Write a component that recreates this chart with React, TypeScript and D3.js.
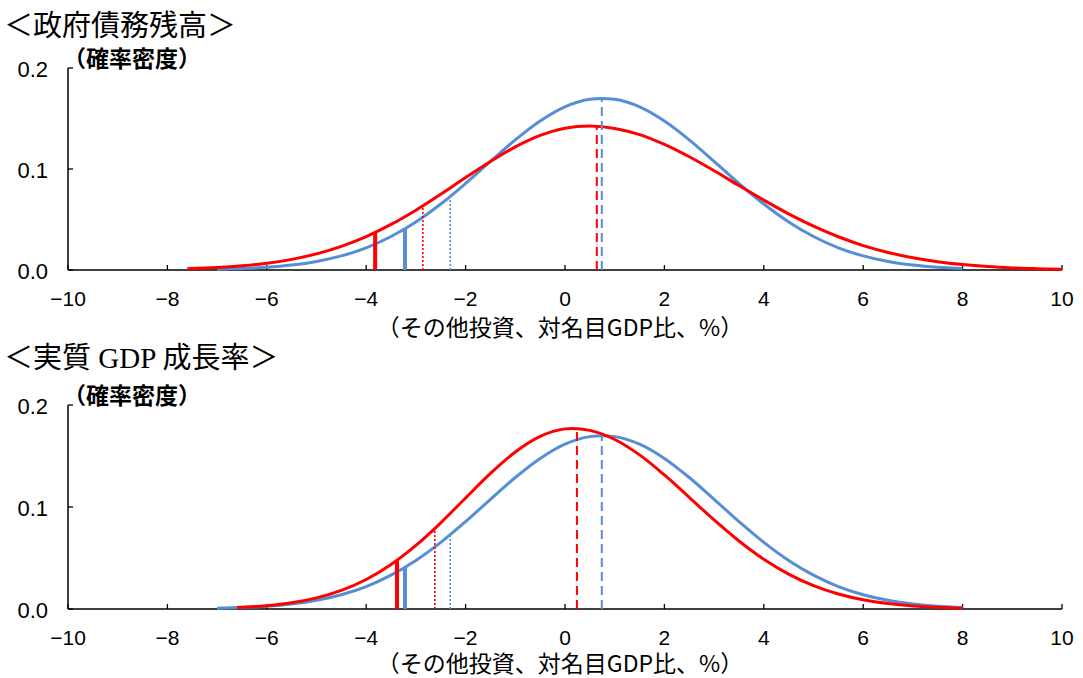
import React from "react";
import * as d3 from "d3";

// ---------- data ----------
const xTicks = [-10, -8, -6, -4, -2, 0, 2, 4, 6, 8, 10];
const yTicks = [0, 0.1, 0.2];
const xTitle = "（その他投資、対名目GDP比、%）";
const yTitle = "（確率密度）";

// Panel 1: 政府債務残高
const p1BlueX = [-7, -6.5, -6, -5.5, -5, -4.5, -4, -3.5, -3, -2.5, -2, -1.5, -1, -0.5, 0, 0.5, 1, 1.5, 2, 2.5, 3, 3.5, 4, 4.5, 5, 5.5, 6, 6.5, 7, 7.5, 8];
const p1BlueY = [0.0007, 0.0015, 0.0027, 0.0049, 0.0085, 0.014, 0.022, 0.0332, 0.0476, 0.0653, 0.0857, 0.1075, 0.1289, 0.1476, 0.1616, 0.169, 0.169, 0.1616, 0.1476, 0.1289, 0.1075, 0.0857, 0.0653, 0.0476, 0.0332, 0.022, 0.014, 0.0085, 0.0049, 0.0027, 0.0015];
const p1RedX = [-7.6, -7, -6.5, -6, -5.5, -5, -4.5, -4, -3.5, -3, -2.5, -2, -1.5, -1, -0.5, 0, 0.5, 1, 1.5, 2, 2.5, 3, 3.5, 4, 4.5, 5, 5.5, 6, 6.5, 7, 7.5, 8, 8.5, 9, 9.5, 10];
const p1RedY = [0.0012, 0.0024, 0.0041, 0.0067, 0.0105, 0.016, 0.0234, 0.0331, 0.0451, 0.0592, 0.075, 0.0915, 0.1075, 0.1219, 0.1333, 0.1404, 0.1426, 0.1402, 0.134, 0.1243, 0.1121, 0.0983, 0.0836, 0.0692, 0.0556, 0.0434, 0.0329, 0.0242, 0.0174, 0.0121, 0.0082, 0.0054, 0.0034, 0.0021, 0.0013, 0.0007];
const p1Markers = [
  { x: -3.82, color: "red", kind: "solid" },
  { x: -3.22, color: "blue", kind: "solid" },
  { x: -2.86, color: "red", kind: "dot" },
  { x: -2.31, color: "blue", kind: "dot" },
  { x: 0.64, color: "red", kind: "dash" },
  { x: 0.74, color: "blue", kind: "dash" },
];

// Panel 2: 実質GDP成長率
const p2BlueX = [-7, -6.5, -6, -5.5, -5, -4.5, -4, -3.5, -3, -2.5, -2, -1.5, -1, -0.5, 0, 0.5, 1, 1.5, 2, 2.5, 3, 3.5, 4, 4.5, 5, 5.5, 6, 6.5, 7, 7.5, 8];
const p2BlueY = [0.0007, 0.0015, 0.0027, 0.0049, 0.0085, 0.014, 0.022, 0.0332, 0.0476, 0.0653, 0.0857, 0.1075, 0.1289, 0.1476, 0.1616, 0.169, 0.169, 0.1616, 0.1476, 0.1289, 0.1075, 0.0857, 0.0653, 0.0476, 0.0332, 0.022, 0.014, 0.0085, 0.0049, 0.0027, 0.0015];
const p2RedX = [-6.6, -6, -5.5, -5, -4.5, -4, -3.5, -3, -2.5, -2, -1.5, -1, -0.5, 0, 0.5, 1, 1.5, 2, 2.5, 3, 3.5, 4, 4.5, 5, 5.5, 6, 6.5, 7, 7.5, 8];
const p2RedY = [0.0015, 0.0033, 0.0061, 0.0109, 0.0182, 0.0289, 0.0436, 0.0623, 0.0845, 0.1088, 0.1329, 0.154, 0.1693, 0.1766, 0.1751, 0.1662, 0.1511, 0.1314, 0.1095, 0.0873, 0.0667, 0.0488, 0.0342, 0.0229, 0.0147, 0.009, 0.0053, 0.003, 0.0016, 0.0008];
const p2Markers = [
  { x: -3.38, color: "red", kind: "solid" },
  { x: -3.22, color: "blue", kind: "solid" },
  { x: -2.62, color: "red", kind: "dot" },
  { x: -2.31, color: "blue", kind: "dot" },
  { x: 0.24, color: "red", kind: "dash" },
  { x: 0.74, color: "blue", kind: "dash" },
];

const COLORS: Record<string, string> = { red: "#FF0000", blue: "#558ED5" };

const panels = [
  {
    title: "＜政府債務残高＞",
    top: 68, bottom: 270, titleY: 36, xTitleDy: 66,
    blue: { xs: p1BlueX, ys: p1BlueY },
    red: { xs: p1RedX, ys: p1RedY },
    markers: p1Markers,
  },
  {
    title: "＜実質 GDP 成長率＞",
    top: 405, bottom: 609, titleY: 368, xTitleDy: 63,
    blue: { xs: p2BlueX, ys: p2BlueY },
    red: { xs: p2RedX, ys: p2RedY },
    markers: p2Markers,
  },
];

const sansLatin = "'Liberation Sans', Arial, 'Noto Sans CJK JP', sans-serif";
const gothic = "'Noto Sans CJK JP', sans-serif";
const serif = "'Liberation Serif', 'Noto Sans CJK JP', serif";

function interp(xs: number[], ys: number[], x: number) {
  const i = d3.bisectLeft(xs, x);
  if (i <= 0) return ys[0];
  if (i >= xs.length) return ys[ys.length - 1];
  const t = (x - xs[i - 1]) / (xs[i] - xs[i - 1]);
  return ys[i - 1] + t * (ys[i] - ys[i - 1]);
}

function Panel({ p }: { p: any }) {
  const x = d3.scaleLinear().domain([-10, 10]).range([68, 1062]);
  const y = d3.scaleLinear().domain([0, 0.2]).range([p.bottom, p.top]);
  const line = d3
    .line<[number, number]>()
    .x((d) => x(d[0]))
    .y((d) => y(d[1]))
    .curve(d3.curveCatmullRom);
  const pts = (s: { xs: number[]; ys: number[] }) =>
    s.xs.map((v, i) => [v, s.ys[i]] as [number, number]);

  return (
    <g>
      <text x={4} y={p.titleY} fontFamily={serif} fontSize={29} fill="#000">
        {p.title}
      </text>
      <text x={63} y={p.top - 1} fontFamily={gothic} fontSize={23} fontWeight="bold" fill="#000">
        {yTitle}
      </text>
      {/* axes */}
      <line x1={x(-10)} x2={x(-10)} y1={y(0.2)} y2={y(0)} stroke="#000" strokeWidth={1.5} />
      <line x1={x(-10)} x2={x(10)} y1={y(0)} y2={y(0)} stroke="#000" strokeWidth={1.5} />
      {yTicks.map((t) => (
        <g key={"y" + t}>
          <line x1={x(-10)} x2={x(-10) + 5} y1={y(t)} y2={y(t)} stroke="#000" strokeWidth={1.3} />
          <text x={48} y={y(t) + 1} dy="0.35em" textAnchor="end" fontFamily={sansLatin} fontSize={22} fill="#000">
            {t.toFixed(1)}
          </text>
        </g>
      ))}
      {xTicks.map((t) => (
        <g key={"x" + t}>
          <line x1={x(t)} x2={x(t)} y1={y(0)} y2={y(0) - 5} stroke="#000" strokeWidth={1.3} />
          <text x={x(t)} y={y(0) + 36} textAnchor="middle" fontFamily={sansLatin} fontSize={21} fill="#000">
            {t < 0 ? "\u2212" + Math.abs(t) : String(t)}
          </text>
        </g>
      ))}
      <text x={560} y={y(0) + p.xTitleDy} textAnchor="middle" fontFamily={gothic} fontSize={23} fill="#000">
        {xTitle}
      </text>
      {/* curves */}
      <path d={line(pts(p.blue)) || ""} fill="none" stroke={COLORS.blue} strokeWidth={3} />
      <path d={line(pts(p.red)) || ""} fill="none" stroke={COLORS.red} strokeWidth={3} />
      {/* markers */}
      {p.markers.map((m: any, i: number) => {
        const s = m.color === "red" ? p.red : p.blue;
        const h = interp(s.xs, s.ys, m.x);
        const sw = m.kind === "solid" ? 4 : m.kind === "dash" ? 2 : 1.6;
        const da = m.kind === "dash" ? "9 5" : m.kind === "dot" ? "2 2" : undefined;
        return (
          <line
            key={i}
            x1={x(m.x)}
            x2={x(m.x)}
            y1={y(0)}
            y2={y(h)}
            stroke={COLORS[m.color]}
            strokeWidth={sw}
            strokeDasharray={da}
          />
        );
      })}
    </g>
  );
}

export default function App() {
  return (
    <svg
      width={1083}
      height={678}
      style={{ position: "absolute", left: 0, top: 0, background: "#fff" }}
    >
      <rect width={1083} height={678} fill="#fff" />
      {panels.map((p, i) => (
        <Panel key={i} p={p} />
      ))}
    </svg>
  );
}
